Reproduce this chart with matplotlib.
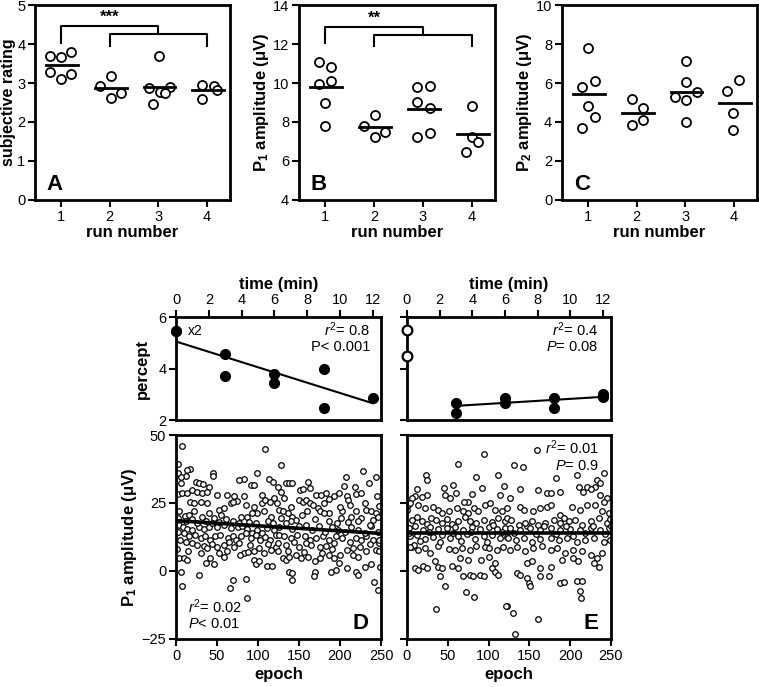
"""Run-by-run ratings and P1/P2 amplitudes, plus percept and P1 drift over one run."""

import matplotlib

matplotlib.use("Agg")
import matplotlib.pyplot as plt

plt.rcParams["font.family"] = ["Liberation Sans", "DejaVu Sans"]
plt.rcParams["mathtext.fontset"] = "custom"
plt.rcParams["mathtext.rm"] = "Liberation Sans"
plt.rcParams["mathtext.it"] = "Liberation Sans:italic"
plt.rcParams["mathtext.bf"] = "Liberation Sans:bold"

# ---- top row: per-run values (one list per run) ----
RUN_NUMBERS = [1, 2, 3, 4]

A_RATING = [
    [3.68, 3.66, 3.79, 3.27, 3.09, 3.23],
    [2.92, 3.18, 2.62, 2.74],
    [3.68, 2.88, 2.78, 2.90, 2.74, 2.45],
    [2.95, 2.93, 2.82, 2.60],
]
A_JITTER = [
    [-0.22, 0.0, 0.2, -0.22, 0.0, 0.2],
    [-0.2, 0.02, 0.02, 0.23],
    [0.01, -0.2, 0.03, 0.24, 0.14, -0.11],
    [-0.1, 0.14, 0.2, -0.1],
]
A_MEDIAN = [3.46, 2.87, 2.90, 2.82]

B_P1 = [
    [11.09, 10.8, 9.95, 10.1, 9.0, 7.8],
    [7.8, 8.36, 7.21, 7.5],
    [9.78, 9.85, 9.04, 8.7, 7.21, 7.45],
    [8.84, 7.21, 6.99, 6.46],
]
B_JITTER = [
    [-0.12, 0.12, -0.12, 0.12, 0.0, 0.0],
    [-0.2, 0.02, 0.02, 0.22],
    [-0.12, 0.14, -0.12, 0.14, -0.12, 0.14],
    [0.0, 0.0, 0.12, -0.12],
]
B_MEDIAN = [9.78, 7.74, 8.67, 7.38]

C_P2 = [
    [7.78, 6.12, 5.81, 4.82, 4.27, 3.71],
    [5.16, 4.74, 3.85, 4.10],
    [7.15, 6.05, 5.30, 5.13, 5.56, 3.98],
    [5.61, 6.15, 4.44, 3.59],
]
C_JITTER = [
    [0.0, 0.14, -0.12, 0.0, 0.14, -0.12],
    [-0.09, 0.14, -0.09, 0.14],
    [0.01, 0.01, -0.21, 0.01, 0.23, 0.01],
    [-0.14, 0.1, -0.02, -0.02],
]
C_MEDIAN = [5.42, 4.46, 5.56, 4.96]

# ---- percept vs time ----
D_TIME = [0, 0, 3, 3, 6, 6, 9, 9, 12]
D_PERCEPT = [5.45, 5.45, 4.57, 3.72, 3.77, 3.45, 4.0, 2.46, 2.86]
D_PERCEPT_FIT_T = [0, 12]
D_PERCEPT_FIT = [5.05, 2.65]

E_OPEN_TIME = [0, 0]
E_OPEN_PERCEPT = [5.48, 4.47]
E_TIME = [3, 3, 6, 6, 9, 9, 12, 12]
E_PERCEPT = [2.65, 2.26, 2.84, 2.67, 2.84, 2.45, 3.0, 2.88]
E_PERCEPT_FIT_T = [3, 12]
E_PERCEPT_FIT = [2.55, 2.9]

# ---- single-epoch P1 amplitude ----
D_EPOCH = [
    7.7, 109, 2.4, 2.4, 17, 14, 12.6, 6, 45.6, 45.6, 99, 83, 77, 24, 28, 33, 91, 95, 113, 118,
    105, 6.5, 40, 20, 26, 32, 38, 2.4, 7.7, 14, 50, 62, 71, 74, 67, 70, 85, 83, 95, 105,
    109, 115, 120, 17, 22, 30, 38, 4, 11, 16, 22, 52, 59, 55, 99, 107, 116, 79, 87, 93,
    40, 46, 32,
    4, 8, 13, 20, 28, 34, 40, 50, 59, 67, 75, 81, 87, 93, 99, 105, 111, 120, 2.4, 10,
    16, 23, 30, 35, 42, 48, 54, 63, 69, 73, 79, 85, 91, 97, 103, 109, 115, 122, 5, 12,
    19, 25, 34, 38, 44, 50, 59, 65, 71, 77, 83, 88, 95, 101, 107, 116, 122, 4, 10, 14,
    36, 46, 42, 59, 95, 97, 101, 111, 117, 6, 28, 7.7, 69, 85, 66, 86,
    128, 228, 207, 244, 235, 134, 138, 142, 161, 163, 124, 128, 151, 155, 205, 218, 220, 171, 177, 183,
    193, 199, 208, 210, 212, 150, 155, 159, 163, 167, 173, 175, 181, 187, 232, 238, 244, 123, 126, 130,
    136, 142, 146, 140, 201, 213, 226, 222, 240, 246, 203, 220,
    126, 132, 140, 148, 157, 163, 171, 179, 187, 195, 203, 212, 220, 226, 232, 240, 248, 124, 134, 144,
    150, 159, 165, 175, 183, 193, 208, 216, 224, 232, 244, 124, 130, 134, 138, 146, 152, 161, 169, 175,
    187, 193, 199, 209, 216, 222, 230, 238, 138, 142, 142, 169, 168, 189, 195, 220, 222, 242, 246, 249,
    248, 248,
    126, 134, 142, 150, 158, 166, 174, 182, 190, 198, 206, 214, 222, 230, 238, 246, 128, 154, 170, 186,
    196, 210, 236, 3, 12, 19, 26, 36, 44, 52, 61, 69, 77, 89, 98, 112, 118, 140, 160, 180,
    200, 230, 248, 245, 132, 186, 225, 1, 15, 30, 52, 62, 78, 90, 112, 136, 156, 178, 200, 236,
    190,
]
D_AMP = [
    46.1, 44.9, 39.4, 36.0, 37.4, 37.0, 35.1, 34.7, 36.0, 35.0, 36.0, 33.9, 33.5, 32.6, 32.3, 31.9, 31.7, 31.7, 33.7, 32.9,
    28.0, 32.3, 31.0, 29.8, 29.2, 28.6, 29.2, 28.3, 28.6, 28.6, 28.0, 28.0, 27.4, 25.8, 25.0, 25.2, 24.3, 27.4, 23.7, 24.9,
    26.1, 25.5, 26.8, 25.5, 24.9, 25.2, 24.9, 21.9, 20.3, 20.6, 22.1, 22.5, 23.1, 20.6, 21.2, 21.9, 20.0, 20.0, 19.8, 21.5,
    21.2, 19.4, 20.0,
    17.0, 16.1, 15.4, 15.1, 16.3, 15.4, 16.1, 16.1, 17.0, 15.7, 16.1, 16.6, 15.4, 13.9, 15.1, 14.1, 15.7, 15.1, 14.5, 13.9,
    12.7, 13.3, 12.0, 12.7, 11.5, 12.7, 13.3, 12.0, 12.7, 11.5, 12.7, 13.9, 12.0, 13.3, 11.5, 12.4, 11.5, 13.3, 11.5, 10.8,
    10.2, 9.6, 9.2, 8.4, 10.0, 9.0, 9.6, 10.8, 9.0, 10.2, 6.5, 6.8, 7.2, 8.4, 6.5, 7.8, 9.0, 4.7, 4.7, 4.1,
    2.9, 2.6, 4.7, 5.3, 4.1, 2.6, 3.5, 1.9, 1.9, -0.2, -1.4, -5.7, -3.3, -3.0, -6.3, -10.0,
    39.0, 36.9, 34.7, 34.5, 32.3, 32.5, 32.3, 32.3, 32.9, 30.4, 31.0, 29.2, 29.8, 30.0, 31.3, 30.7, 28.3, 28.0, 28.0, 28.6,
    27.6, 28.6, 27.6, 26.1, 24.3, 26.1, 25.5, 26.1, 24.9, 24.3, 23.1, 22.2, 24.9, 21.2, 22.5, 21.9, 21.5, 24.9, 22.5, 21.9,
    21.2, 20.0, 18.8, 18.2, 19.4, 20.0, 19.4, 18.2, 18.8, 20.0, 21.9, 21.9,
    13.3, 12.7, 12.0, 13.3, 12.7, 11.5, 12.0, 12.7, 11.5, 12.7, 12.0, 10.8, 12.0, 11.5, 12.7, 11.5, 10.2, 10.2, 9.6, 10.8,
    9.0, 10.2, 9.6, 9.0, 9.2, 10.2, 7.8, 8.4, 9.0, 7.2, 7.8, 7.2, 4.7, 4.1, 5.3, 5.9, 4.7, 5.3, 3.5, 4.7,
    5.9, 4.7, 3.1, 1.0, 5.9, 5.1, 1.6, 2.6, -0.2, -0.6, -3.3, -0.2, -1.8, -0.2, 0.2, -0.2, -1.4, -3.9, -7.0, 1.4,
    7.2, 11.5,
    16.0, 17.5, 15.5, 16.5, 17.0, 15.0, 16.5, 14.5, 16.0, 15.0, 14.5, 16.0, 15.0, 14.0, 16.5, 14.5, 19.5, 20.5, 19.0, 18.5,
    17.5, 18.0, 17.0, 19.5, 18.5, 19.0, 17.5, 18.5, 17.5, 18.0, 19.0, 18.5, 17.5, 18.0, 17.5, 18.5, 17.5, 23.5, 22.0, 21.5,
    23.5, 25.0, 24.0, 27.5, 27.0, 26.5, 28.5, 8.0, 7.5, 6.5, 6.5, 7.5, 5.8, 9.5, 10.0, 7.5, 7.0, 6.5, 6.0, 10.0,
    8.0,
]
D_FIT_EPOCH = [0, 250]
D_FIT_AMP = [18.5, 13.8]

E_EPOCH = [
    94, 63, 23, 25, 85, 111, 12, 24, 18, 10, 6, 45, 57, 60, 47, 53, 92, 80, 75, 70,
    119, 114, 1, 4, 0.5, 14, 22, 32, 38, 51, 43, 61, 69, 75, 82, 87, 96, 102, 108, 116,
    122, 6, 12, 18, 24, 30, 36, 43, 49, 55, 63, 71, 77, 85, 94, 104, 112, 120, 2, 10,
    20, 28, 38, 49, 59, 69, 80, 90, 100, 110, 120, 4, 12, 22, 32, 43, 53, 63, 73, 83,
    94, 104, 114, 122, 6, 14, 22, 28, 38, 51, 59, 67, 77, 85, 96, 100, 110, 118, 8, 4,
    10, 14, 20, 24, 34, 38, 43, 55, 63, 65, 75, 69, 77, 81, 89, 94, 40, 91, 100, 104,
    108, 112, 108, 47, 72, 82, 36, 122,
    159, 131, 142, 182, 208, 241, 233, 237, 230, 139, 161, 171, 177, 188, 211, 220, 226, 216, 237, 245,
    241, 126, 139, 143, 155, 163, 171, 176, 188, 192, 202, 212, 220, 230, 239, 123, 128, 137, 147, 153,
    161, 169, 180, 188, 198, 206, 214, 225, 235, 245, 126, 139, 151, 163, 176, 188, 200, 212, 225, 237,
    247, 124, 133, 143, 153, 163, 176, 186, 196, 208, 218, 229, 241, 249, 126, 135, 145, 155, 165, 176,
    184, 194, 204, 214, 225, 233, 239, 147, 153, 163, 176, 190, 204, 210, 229, 235, 135, 139, 147, 149,
    151, 163, 174, 188, 192, 208, 214, 212, 213, 121, 130, 132, 160,
    3, 16, 27, 41, 57, 66, 79, 98, 106, 117, 131, 145, 158, 168, 183, 195, 203, 218, 228, 243,
    249, 247, 250,
]
E_AMP = [
    43.0, 39.4, 35.3, 33.5, 34.7, 35.3, 30.0, 28.0, 27.1, 27.4, 26.8, 30.4, 31.7, 28.8, 28.0, 26.8, 30.4, 28.3, 25.5, 25.5,
    31.3, 28.0, 24.3, 24.9, 22.5, 24.3, 23.0, 23.7, 22.5, 21.9, 21.2, 23.0, 21.9, 21.2, 23.0, 21.9, 24.3, 24.9, 22.5, 21.9,
    23.0, 18.8, 19.9, 18.2, 17.3, 19.4, 18.6, 17.6, 19.1, 17.2, 18.2, 19.8, 18.4, 17.6, 18.8, 18.0, 19.4, 18.5, 15.7, 16.4,
    15.1, 16.1, 15.5, 15.9, 16.3, 15.2, 16.1, 15.6, 16.2, 15.3, 15.9, 12.7, 13.4, 11.8, 12.6, 13.1, 12.0, 12.9, 13.5, 11.7,
    12.8, 13.2, 12.1, 12.6, 9.0, 7.8, 8.6, 6.5, 9.2, 8.2, 7.6, 8.5, 7.9, 9.1, 8.8, 8.3, 7.7, 9.0, 9.6, 8.8,
    1.0, 0.4, 1.9, 1.0, 3.8, 1.6, 1.0, 1.9, 1.0, 4.7, 4.1, -2.0, -1.4, -1.8, -1.4, -1.8, -2.0, 4.1, 5.3, 1.0,
    -0.2, -1.4, 2.9, -5.7, -7.6, -9.4, -14.1, -12.8,
    44.5, 39.0, 38.4, 34.1, 35.3, 35.9, 33.5, 32.5, 31.0, 30.0, 29.8, 28.8, 28.6, 29.2, 31.0, 31.0, 30.0, 29.2, 28.0, 26.8,
    25.5, 26.8, 23.7, 22.5, 21.9, 23.0, 23.7, 24.3, 20.6, 19.4, 23.7, 22.5, 24.3, 24.3, 21.9, 19.4, 18.8, 17.0, 16.4, 18.2,
    17.0, 17.6, 18.8, 17.6, 18.2, 18.8, 17.0, 18.2, 19.4, 17.6, 15.7, 15.1, 15.9, 15.0, 15.8, 14.9, 15.6, 15.2, 15.7, 15.1,
    15.8, 12.0, 11.5, 12.2, 10.8, 11.6, 12.1, 11.4, 12.0, 10.8, 11.5, 12.2, 10.8, 11.5, 7.8, 9.0, 7.2, 8.4, 9.1, 7.8,
    8.4, 6.5, 7.8, 7.2, 5.9, 4.7, 6.5, 2.9, 3.5, 1.0, 1.6, 4.1, 4.7, 3.5, 2.9, 1.6, -0.8, -1.4, -2.7, -4.3,
    -5.7, -2.0, -2.0, -4.5, -3.9, -3.5, -3.5, -7.5, -10.0, -13.0, -15.3, -23.2, -17.8,
    14.0, 11.0, 14.5, 10.5, 14.0, 11.0, 14.5, 10.5, 17.0, 14.5, 14.0, 17.5, 13.5, 16.5, 13.5, 16.5, 13.0, 14.0, 16.5, 13.5,
    19.0, 21.5, 16.5,
]
E_FIT_EPOCH = [0, 250]
E_FIT_AMP = [14.1, 14.1]

SPINE_W = 2.0
LABEL_SIZE = 12
TICK_SIZE = 10.5


def style_axes(ax) -> None:
    for spine in ax.spines.values():
        spine.set_linewidth(SPINE_W)
    ax.tick_params(direction="out", length=5, width=1.5, labelsize=TICK_SIZE, pad=2)


def draw_run_panel(ax, values, jitter, medians, ylim, ylabel, letter) -> None:
    style_axes(ax)
    for run, vals, offs, med in zip(RUN_NUMBERS, values, jitter, medians):
        ax.plot([run + o for o in offs], vals, "o", ms=6.5, mfc="white", mec="black", mew=1.3)
        ax.plot([run - 0.3, run + 0.35], [med, med], color="black", lw=2)
    ax.set_xlim(0.47, 4.47)
    ax.set_ylim(*ylim)
    ax.set_xticks(RUN_NUMBERS)
    ax.set_xlabel("run number", fontsize=LABEL_SIZE, fontweight="bold", labelpad=1)
    ax.set_ylabel(ylabel, fontsize=LABEL_SIZE, fontweight="bold", labelpad=1)
    ax.text(0.06, 0.05, letter, transform=ax.transAxes, fontsize=16, fontweight="bold")


def draw_bracket(ax, low, high, inner, stars_y, stars) -> None:
    # 1 vs 3 on the upper bar, 2..4 on the lower bar joined at run 3
    ax.plot([1, 1, 3, 3], [low, high, high, inner], color="black", lw=1.5)
    ax.plot([2, 2, 4, 4], [low - (high - inner) * 0.4, inner, inner, low - (high - inner) * 0.4],
            color="black", lw=1.5)
    ax.text(2, stars_y, stars, ha="center", va="center", fontsize=12, fontweight="bold")


def draw_percept(ax, show_labels: bool) -> None:
    style_axes(ax)
    ax.xaxis.tick_top()
    ax.xaxis.set_label_position("top")
    ax.set_xlim(0, 12.5)
    ax.set_ylim(2, 6)
    ax.set_xticks(range(0, 13, 2))
    ax.set_yticks([2, 4, 6])
    ax.set_xlabel("time (min)", fontsize=LABEL_SIZE, fontweight="bold", labelpad=3)
    if show_labels:
        ax.set_ylabel("percept", fontsize=LABEL_SIZE, fontweight="bold", labelpad=6)
    else:
        ax.set_yticklabels([])


def draw_epochs(ax, epochs, amps, fit_x, fit_y, show_labels: bool) -> None:
    style_axes(ax)
    ax.scatter(epochs, amps, s=16, facecolors="white", edgecolors="black", linewidths=0.9, zorder=2)
    ax.plot(fit_x, fit_y, color="black", lw=2.6, zorder=3)
    ax.set_xlim(0, 250)
    ax.set_ylim(-25, 50)
    ax.set_xticks(range(0, 251, 50))
    ax.set_yticks([-25, 0, 25, 50])
    ax.set_xlabel("epoch", fontsize=LABEL_SIZE, fontweight="bold", labelpad=3)
    if show_labels:
        ax.set_ylabel(r"$\mathbf{P_1}$ amplitude (μV)", fontsize=LABEL_SIZE, fontweight="bold", labelpad=2)
    else:
        ax.set_yticklabels([])


def main() -> None:
    fig = plt.figure(figsize=(7.59, 6.87), dpi=100)

    ax_a = fig.add_axes([0.0461, 0.7089, 0.2569, 0.2838])
    ax_b = fig.add_axes([0.3939, 0.7089, 0.2582, 0.2838])
    ax_c = fig.add_axes([0.7404, 0.7089, 0.2569, 0.2838])

    draw_run_panel(ax_a, A_RATING, A_JITTER, A_MEDIAN, (0, 5), "subjective rating", "A")
    ax_a.yaxis.label.set_fontsize(11.5)
    draw_bracket(ax_a, 4.03, 4.46, 4.25, 4.68, "***")
    draw_run_panel(ax_b, B_P1, B_JITTER, B_MEDIAN, (4, 14), r"$\mathbf{P_1}$ amplitude (μV)", "B")
    ax_b.set_yticks([4, 6, 8, 10, 12, 14])
    draw_bracket(ax_b, 12.03, 12.85, 12.46, 13.3, "**")
    draw_run_panel(ax_c, C_P2, C_JITTER, C_MEDIAN, (0, 10), r"$\mathbf{P_2}$ amplitude (μV)", "C")
    ax_c.set_yticks([0, 2, 4, 6, 8, 10])

    ax_dp = fig.add_axes([0.2319, 0.3886, 0.2701, 0.1499])
    ax_de = fig.add_axes([0.2319, 0.0699, 0.2701, 0.2969])
    ax_ep = fig.add_axes([0.5362, 0.3886, 0.2688, 0.1499])
    ax_ee = fig.add_axes([0.5362, 0.0699, 0.2688, 0.2969])

    draw_percept(ax_dp, True)
    ax_dp.plot(D_PERCEPT_FIT_T, D_PERCEPT_FIT, color="black", lw=1.5)
    ax_dp.plot(D_TIME, D_PERCEPT, "o", ms=7, color="black", clip_on=False, zorder=4)
    ax_dp.text(0.75, 5.45, "x2", va="center", fontsize=10)
    ax_dp.text(0.946, 0.874, r"$r^2$= 0.8", transform=ax_dp.transAxes, ha="right", va="center", fontsize=TICK_SIZE)
    ax_dp.text(0.946, 0.709, "P< 0.001", transform=ax_dp.transAxes, ha="right", va="center", fontsize=TICK_SIZE)

    draw_percept(ax_ep, False)
    ax_ep.plot(E_PERCEPT_FIT_T, E_PERCEPT_FIT, color="black", lw=1.5)
    ax_ep.plot(E_TIME, E_PERCEPT, "o", ms=7, color="black", clip_on=False, zorder=4)
    ax_ep.plot(E_OPEN_TIME, E_OPEN_PERCEPT, "o", ms=7, mfc="white", mec="black", mew=1.6,
               clip_on=False, zorder=4)
    ax_ep.text(0.936, 0.874, r"$r^2$= 0.4", transform=ax_ep.transAxes, ha="right", va="center", fontsize=TICK_SIZE)
    ax_ep.text(0.936, 0.709, r"$P$= 0.08", transform=ax_ep.transAxes, ha="right", va="center", fontsize=TICK_SIZE)

    draw_epochs(ax_de, D_EPOCH, D_AMP, D_FIT_EPOCH, D_FIT_AMP, True)
    ax_de.text(0.059, 0.157, r"$r^2$= 0.02", transform=ax_de.transAxes, va="center", fontsize=TICK_SIZE)
    ax_de.text(0.059, 0.074, r"$P$< 0.01", transform=ax_de.transAxes, va="center", fontsize=TICK_SIZE)
    ax_de.text(0.937, 0.05, "D", transform=ax_de.transAxes, ha="right", fontsize=16, fontweight="bold")

    draw_epochs(ax_ee, E_EPOCH, E_AMP, E_FIT_EPOCH, E_FIT_AMP, False)
    ax_ee.text(0.941, 0.936, r"$r^2$= 0.01", transform=ax_ee.transAxes, ha="right", va="center", fontsize=TICK_SIZE)
    ax_ee.text(0.941, 0.85, r"$P$= 0.9", transform=ax_ee.transAxes, ha="right", va="center", fontsize=TICK_SIZE)
    ax_ee.text(0.936, 0.05, "E", transform=ax_ee.transAxes, ha="right", fontsize=16, fontweight="bold")

    fig.savefig("out.png", dpi=100)
    plt.close(fig)


if __name__ == "__main__":
    main()
